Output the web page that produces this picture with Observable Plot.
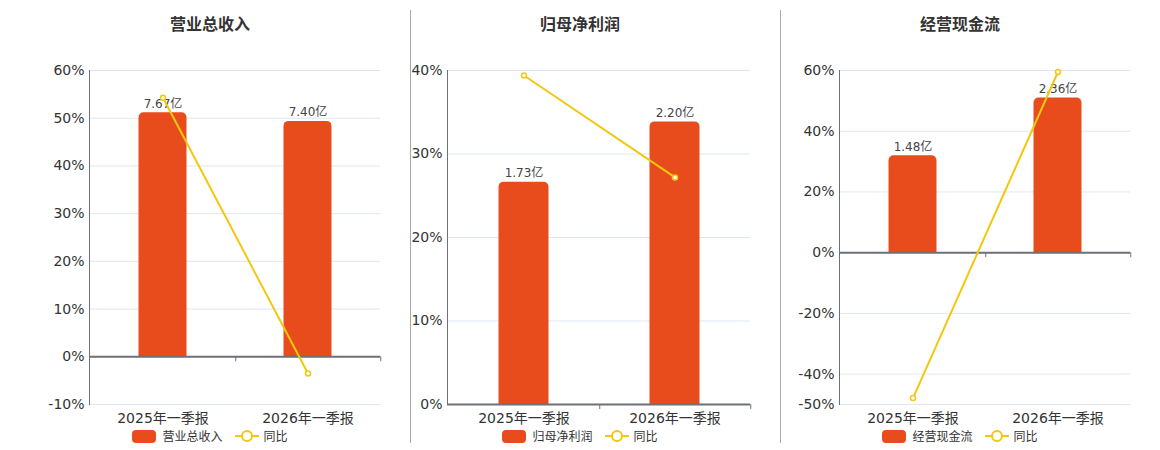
<!DOCTYPE html>
<html>
<head>
<meta charset="utf-8">
<script src="https://cdn.jsdelivr.net/npm/d3@7"></script>
<script src="https://cdn.jsdelivr.net/npm/@observablehq/plot@0.6"></script>
<style>
  html, body { margin: 0; padding: 0; background: #fff; }
  #root { position: relative; width: 1160px; height: 450px; overflow: hidden;
          font-family: "DejaVu Sans", "Noto Sans CJK SC", sans-serif; }
  .panel-svg { position: absolute; top: 0; }
  .title { position: absolute; top: 11px; width: 240px; text-align: center;
           font: bold 16px "Noto Sans CJK SC", "DejaVu Sans", sans-serif; color: #333; line-height: 24px; }
  .sep { position: absolute; top: 10px; height: 433px; width: 1px; background: #a8a8a8; }
  .legend { position: absolute; top: 428px; width: 300px; display: flex; justify-content: center;
            align-items: center; font: 12px "Noto Sans CJK SC", "DejaVu Sans", sans-serif; color: #333; line-height: 16px; }
  .legend .sw { width: 24px; height: 13px; border-radius: 4px; margin-right: 6px; }
  .legend svg { margin-left: 12px; margin-right: 5px; }
</style>
</head>
<body>
<div id="root"></div>
<script>
// ---- data ----
const categories = ["2025年一季报", "2026年一季报"];

const revenue = [7.67, 7.40];          // 营业总收入 (亿)
const revenueYoy = [54.3, -3.5];       // 同比 %

const netProfit = [1.73, 2.20];        // 归母净利润 (亿)
const netProfitYoy = [39.4, 27.2];     // 同比 %

const cashFlow = [1.48, 2.36];         // 经营现金流 (亿)
const cashFlowYoy = [-47.9, 59.5];     // 同比 %

const titles = ["营业总收入", "归母净利润", "经营现金流"];
const yTicks1 = [-10, 0, 10, 20, 30, 40, 50, 60];
const yTicks2 = [0, 10, 20, 30, 40];
const yTicks3 = [-50, -40, -20, 0, 20, 40, 60];
// top of the hidden secondary (amount) axis, aligned with the top of the % axis
const barAxisMax = [9, 2.6, 2.78];

const BAR = "#e84c1d";
const LINE = "#f2c80f";
const AXIS = "#6e7079";
const GRID = "#e0e6f1";

const panels = [
  { title: titles[0], bars: revenue, yoy: revenueYoy, ticks: yTicks1, barMax: barAxisMax[0],
    left: 0, width: 400, marginLeft: 89, center: 210 },
  { title: titles[1], bars: netProfit, yoy: netProfitYoy, ticks: yTicks2, barMax: barAxisMax[1],
    left: 390, width: 380, marginLeft: 57, center: 580 },
  { title: titles[2], bars: cashFlow, yoy: cashFlowYoy, ticks: yTicks3, barMax: barAxisMax[2],
    left: 770, width: 380, marginLeft: 69, center: 960 }
];

const root = document.getElementById("root");

panels.forEach((p, idx) => {
  const yMin = d3.min(p.ticks), yMax = d3.max(p.ticks);
  const k = yMax / p.barMax;
  const rows = categories.map((c, i) => ({ cat: c, amount: p.bars[i], yoy: p.yoy[i] }));
  const marginRight = 20;
  const plotW = p.width - p.marginLeft - marginRight;
  const step = plotW / categories.length;
  const inset = step / 3;

  const chart = Plot.plot({
    width: p.width,
    height: 450,
    marginLeft: p.marginLeft,
    marginRight,
    marginTop: 70,
    marginBottom: 46,
    style: { fontFamily: "DejaVu Sans, Noto Sans CJK SC, sans-serif", fontSize: "14px",
             color: "#333", background: "transparent", overflow: "visible" },
    x: { domain: categories, padding: 0 },
    y: { domain: [yMin, yMax] },
    marks: [
      Plot.ruleY(p.ticks, { stroke: GRID, strokeWidth: 1 }),
      Plot.barY(rows, { x: "cat", y: d => d.amount * k, fill: BAR,
                        insetLeft: inset, insetRight: inset, ry1: 5 }),
      Plot.text(rows, { x: "cat", y: d => d.amount * k, text: d => d.amount.toFixed(2) + "亿",
                        lineAnchor: "bottom", dy: -5, fontSize: 12, fill: "#444" }),
      Plot.ruleY([0], { stroke: AXIS, strokeWidth: 2 }),
      Plot.ruleX(categories, { x: d => d, y1: 0, y2: 0, dx: step / 2, insetBottom: -5,
                               stroke: AXIS, strokeWidth: 1 }),
      Plot.frame({ anchor: "left", stroke: AXIS, strokeWidth: 1 }),
      Plot.axisY({ ticks: p.ticks, tickFormat: d => d + "%", tickSize: 0, tickPadding: 5,
                   fontSize: 14, label: null }),
      Plot.axisX({ tickSize: 0, tickPadding: 9, fontSize: 14, label: null }),
      Plot.line(rows, { x: "cat", y: "yoy", stroke: LINE, strokeWidth: 2 }),
      Plot.dot(rows, { x: "cat", y: "yoy", r: 2.5, fill: "#fff", stroke: LINE, strokeWidth: 1.5 })
    ]
  });
  chart.classList.add("panel-svg");
  chart.style.left = p.left + "px";
  chart.style.position = "absolute";
  chart.style.top = "0px";
  root.appendChild(chart);

  const t = document.createElement("div");
  t.className = "title";
  t.style.left = (p.center - 120) + "px";
  t.textContent = p.title;
  root.appendChild(t);

  const lg = document.createElement("div");
  lg.className = "legend";
  lg.style.left = (p.center - 150) + "px";
  lg.innerHTML = `<div class="sw" style="background:${BAR}"></div><span>${p.title}</span>` +
    `<svg width="24" height="14"><line x1="0" y1="7" x2="24" y2="7" stroke="${LINE}" stroke-width="2"/>` +
    `<circle cx="12" cy="7" r="5" fill="#fff" stroke="${LINE}" stroke-width="2"/></svg><span>同比</span>`;
  root.appendChild(lg);
});

[410, 780].forEach(x => {
  const s = document.createElement("div");
  s.className = "sep";
  s.style.left = x + "px";
  root.appendChild(s);
});
</script>
</body>
</html>
